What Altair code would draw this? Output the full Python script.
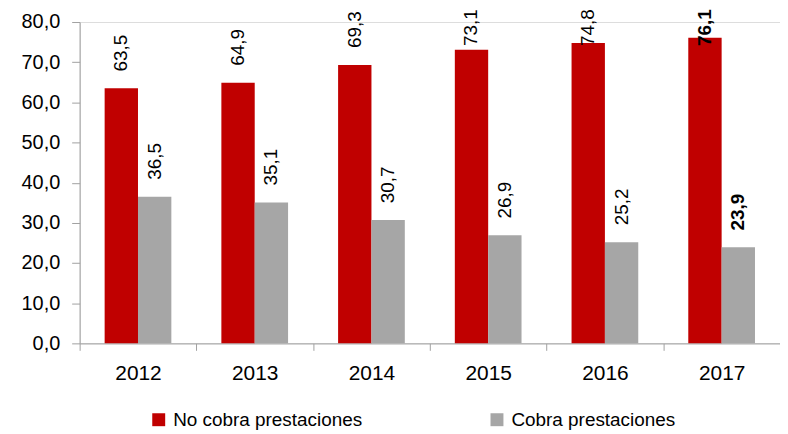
import altair as alt
import pandas as pd

years = ["2012", "2013", "2014", "2015", "2016", "2017"]
series = ["No cobra prestaciones", "Cobra prestaciones"]
no_cobra = [63.5, 64.9, 69.3, 73.1, 74.8, 76.1]
cobra = [36.5, 35.1, 30.7, 26.9, 25.2, 23.9]
colors = ["#C00000", "#A6A6A6"]

rows = []
for i, y in enumerate(years):
    rows.append({"year": y, "serie": series[0], "value": no_cobra[i]})
    rows.append({"year": y, "serie": series[1], "value": cobra[i]})
df = pd.DataFrame(rows)

FONT = "Liberation Sans, Arial"

x = alt.X("year:N", sort=years, title=None,
          scale=alt.Scale(paddingInner=0, paddingOuter=0),
          axis=alt.Axis(labelAngle=0, tickBand="extent", labelFontSize=21,
                        labelColor="#000000", domainColor="#A0A0A0", tickColor="#A0A0A0",
                        tickSize=7, labelPadding=12, labelFont=FONT))
xo = alt.XOffset("serie:N", sort=series,
                 scale=alt.Scale(paddingInner=0, paddingOuter=0.75))
y = alt.Y("value:Q", title=None,
          scale=alt.Scale(domain=[0, 80], nice=False),
          axis=alt.Axis(values=list(range(0, 81, 10)), grid=False, tickSize=8,
                        labelExpr="replace(format(datum.value, '.1f'), '.', ',')",
                        labelFontSize=20, labelColor="#000000", labelFont=FONT,
                        domainColor="#A0A0A0", tickColor="#A0A0A0", labelPadding=12))

bars = alt.Chart(df).mark_bar().encode(
    x=x, xOffset=xo, y=y,
    color=alt.Color("serie:N", sort=series,
                    scale=alt.Scale(domain=series, range=colors),
                    legend=alt.Legend(title=None, orient="none", direction="horizontal",
                                      legendX=70, legendY=390, symbolType="square",
                                      symbolSize=169, symbolStrokeWidth=0,
                                      labelFontSize=19, labelFont=FONT, labelColor="#000000",
                                      labelOffset=5, columnPadding=125, labelLimit=0)),
)

ly = alt.Y("ly:Q", scale=alt.Scale(domain=[0, 80], nice=False))


def label_layer(cond, weight):
    return alt.Chart(df).transform_filter(cond).transform_calculate(
        ly="min(datum.value, 69.8)",
        label="replace(format(datum.value, '.1f'), '.', ',')",
    ).mark_text(angle=270, align="left", baseline="middle", dx=17,
                fontSize=19, font=FONT, color="#000000", fontWeight=weight).encode(
        x=x, xOffset=xo, y=ly, text=alt.Text("label:N"),
    )


labels_normal = label_layer("datum.year != '2017'", "normal")
labels_bold = label_layer("datum.year == '2017'", "bold")

chart = alt.layer(bars, labels_normal, labels_bold).properties(
    width=704, height=323,
    autosize=alt.AutoSizeParams(type="none"),
    padding={"left": 72, "top": 13, "right": 0, "bottom": 90},
).configure_view(stroke=None).configure(font=FONT)

chart.save("out.html", embed_options={"renderer": "svg", "actions": False})
